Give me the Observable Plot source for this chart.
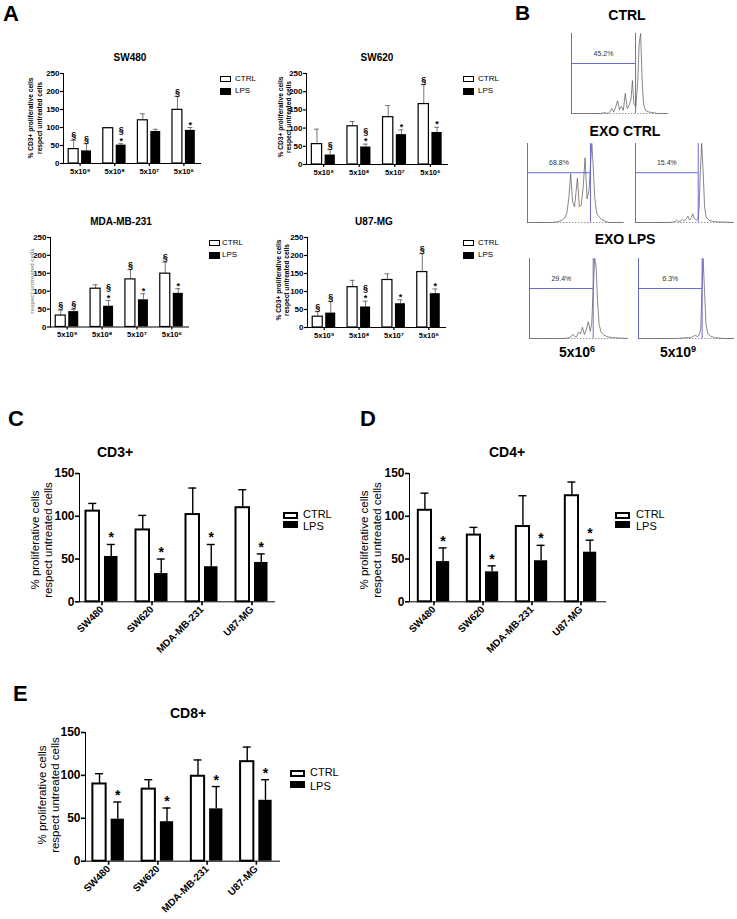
<!DOCTYPE html>
<html><head><meta charset="utf-8">
<script src="https://cdn.jsdelivr.net/npm/d3@7"></script>
<script src="https://cdn.jsdelivr.net/npm/@observablehq/plot@0.6"></script>
<style>
body{margin:0;background:#fff;}
#fig{position:relative;width:737px;height:919px;overflow:hidden;background:#fff;font-family:"Liberation Sans",Arial,sans-serif;color:#000;}
.abs{position:absolute;white-space:nowrap;}
.lbl{position:absolute;white-space:nowrap;transform:translate(-50%,-50%) rotate(-90deg);line-height:1;}
sup{font-size:0.65em;vertical-align:0.55em;line-height:0;}
</style></head><body><div id="fig"></div>
<script>
// ---------- DATA ----------
const doses = ["5x10⁹","5x10⁸","5x10⁷","5x10⁶"];
const cells = ["SW480","SW620","MDA-MB-231","U87-MG"];

// Panel A (CD3+ proliferation, % of untreated) – mean and upper error-bar end
const sw480Ctrl = [40, 98, 120, 149], sw480CtrlUp = [64, 100, 138, 186];
const sw480Lps  = [35, 51, 89, 92],   sw480LpsUp  = [55, 55, 95, 100];
const sw480CtrlAnn = ["§","","","§"], sw480LpsAnn = ["§","§*","","*"];

const sw620Ctrl = [56, 105, 130, 166], sw620CtrlUp = [97, 118, 162, 219];
const sw620Lps  = [26, 48, 82, 88],    sw620LpsUp  = [41, 56, 95, 102];
const sw620CtrlAnn = ["","","","§"], sw620LpsAnn = ["§","§*","*","*"];

const mdaCtrl = [32, 107, 133, 149], mdaCtrlUp = [47, 118, 160, 181];
const mdaLps  = [43, 58, 76, 94],    mdaLpsUp  = [49, 74, 93, 107];
const mdaCtrlAnn = ["§","","§","§"], mdaLpsAnn = ["§","§*","*","*"];

const u87Ctrl = [30, 112, 132, 154], u87CtrlUp = [44, 131, 149, 205];
const u87Lps  = [40, 57, 66, 94],    u87LpsUp  = [72, 73, 77, 107];
const u87CtrlAnn = ["§","","","§"], u87LpsAnn = ["§","§*","*","*"];

// Panels C, D, E
const cd3Ctrl = [106, 84, 102, 110], cd3CtrlUp = [115, 101, 133, 131];
const cd3Lps  = [53, 33, 41, 46],    cd3LpsUp  = [67, 50, 67, 56];
const cd4Ctrl = [107, 78, 88, 124],  cd4CtrlUp = [127, 87, 124, 140];
const cd4Lps  = [47, 35, 48, 58],    cd4LpsUp  = [63, 42, 66, 72];
const cd8Ctrl = [90, 84, 99, 116],   cd8CtrlUp = [102, 95, 118, 133];
const cd8Lps  = [49, 46, 61, 71],    cd8LpsUp  = [69, 62, 87, 95];
const noAnn = ["","","",""], starAnn = ["*","*","*","*"];

// Panel B – CFSE histograms (channel 0-100, relative count 0-100)
const ctrlHistX = [0,30,35,38,40,42,44,46,48,50,52,54,56,58,60,62,63.5,65,67,69,70.5,72,73.5,75,77,80,85,90,100];
const ctrlHistY = [0,0,1,0,2,6,2,8,16,5,9,4,25,6,10,18,41,12,8,40,88,100,45,12,4,2,1,0,0];
const exoCtrlLX = [0,25,32,36,39,41,43,45,47,49,50.5,52,54,56,58,60,62,64,66,67,68.5,70,72,74,77,80,85,100];
const exoCtrlLY = [0,0,1,3,6,12,30,62,26,20,38,56,20,22,45,82,30,40,80,100,70,32,12,8,4,2,0,0];
const exoCtrlRX = [0,35,40,42,44,46,48,50,52,53.5,55,57,58.5,60,62,64,65,66,67.5,69,70.5,72,75,80,100];
const exoCtrlRY = [0,0,1,3,1,2,4,2,5,8,3,6,11,5,3,5,20,60,100,65,20,7,3,1,0];
const exoLpsLX = [0,35,40,42,44,46,48,50,52,54,56,58,60,62,63.5,65,66.5,68,69.5,71,73,76,80,85,100];
const exoLpsLY = [0,0,1,2,5,3,2,8,6,14,5,11,21,9,20,60,100,90,45,18,8,4,2,1,0];
const exoLpsRX = [0,40,50,55,58,60,62,64,65.5,67,68,69.5,71,73,76,80,90,100];
const exoLpsRY = [0,0,1,1,3,4,2,5,12,70,100,60,18,6,3,1,0,0];
const gateEnds = [66.7, 65.6, 64, 65, 67];
const gateLevels = [62.5, 63, 63, 62.5, 62.5];
const gateLabels = ["45.2%","68.8%","15.4%","29.4%","6.3%"];

// ---------- HELPERS ----------
const FONT = '"Liberation Sans", Arial, sans-serif';
const fig = document.getElementById("fig");

function txt(html, x, baseline, size, opts = {}) {
  const d = document.createElement("div");
  d.className = "abs";
  d.innerHTML = html;
  d.style.fontSize = size + "px";
  d.style.lineHeight = "1";
  d.style.fontWeight = opts.weight || "normal";
  if (opts.color) d.style.color = opts.color;
  d.style.left = x + "px";
  d.style.top = (baseline - 0.8465 * size) + "px";
  if (opts.anchor === "middle") d.style.transform = "translateX(-50%)";
  fig.appendChild(d);
}
function vlabel(text, cx, cy, size, weight, color) {
  const d = document.createElement("div");
  d.className = "lbl";
  d.textContent = text;
  d.style.fontSize = size + "px";
  d.style.fontWeight = weight;
  d.style.left = cx + "px";
  d.style.top = cy + "px";
  if (color) d.style.color = color;
  fig.appendChild(d);
}
function box(x, y, w, h, fill, border) {
  const d = document.createElement("div");
  d.className = "abs";
  d.style.left = x + "px"; d.style.top = y + "px";
  d.style.width = w + "px"; d.style.height = h + "px";
  d.style.background = fill;
  d.style.boxSizing = "border-box";
  d.style.border = border + "px solid #000";
  fig.appendChild(d);
}
function legend(x, yCtrl, yLps, w, h, border, textX, fs) {
  box(x, yCtrl, w, h, "#fff", border);
  box(x, yLps, w, h + 1, "#000", 0);
  txt("CTRL", textX, yCtrl + h / 2 + 0.36 * fs, fs);
  txt("LPS", textX, yLps + h / 2 + 0.36 * fs, fs);
}
function place(svg, rect, m) {
  svg.style.position = "absolute";
  svg.style.left = (rect.x0 - m.l) + "px";
  svg.style.top = (rect.y0 - m.t) + "px";
  fig.appendChild(svg);
}

function barPanel(c) {
  const W = c.rect.x1 - c.rect.x0, H = c.rect.y1 - c.rect.y0;
  const step = W / (c.groups.length - c.pi + 2 * c.po);
  const half = step * (1 - c.pi) / 2;
  const off = (half + c.gap / 2) / 2;
  const rows = c.groups.map((g, i) => ({g, c: c.ctrl[i], cu: c.ctrlUp[i], l: c.lps[i], lu: c.lpsUp[i], ca: c.ctrlAnn[i], la: c.lpsAnn[i]}));
  const errMarks = (v, up, dx) => [
    Plot.ruleX(rows, {x: "g", y1: v, y2: up, dx, stroke: c.errColor, strokeWidth: c.errW}),
    Plot.tickY(rows, {x: "g", y: up, insetLeft: half + dx - c.cap / 2, insetRight: half - dx - c.cap / 2, stroke: c.errColor, strokeWidth: c.errW})
  ];
  const annMarks = (up, key, dx) => [
    Plot.text(rows, {filter: d => d[key].includes("*"), x: "g", y: up, text: d => "*", dx, dy: c.starDy, fontSize: c.starFs, lineAnchor: "bottom"}),
    Plot.text(rows, {filter: d => d[key] === "§", x: "g", y: up, text: d => "§", dx, dy: c.secDy, fontSize: c.annFs, lineAnchor: "bottom"}),
    Plot.text(rows, {filter: d => d[key] === "§*", x: "g", y: up, text: d => "§", dx, dy: c.secStarDy, fontSize: c.annFs, lineAnchor: "bottom"})
  ];
  const svg = Plot.plot({
    width: W + c.m.l + c.m.r, height: H + c.m.t + c.m.b,
    marginLeft: c.m.l, marginRight: c.m.r, marginTop: c.m.t, marginBottom: c.m.b,
    style: {background: "transparent", fontFamily: FONT, fontSize: c.baseFs + "px", fontWeight: "bold", color: "#000", overflow: "visible"},
    x: {type: "band", domain: c.groups, paddingInner: c.pi, paddingOuter: c.po, round: false, label: null,
        tickSize: c.tickSize, tickPadding: c.xPad, tickRotate: c.rotate || 0, line: true, tickFormat: c.xFormat},
    y: {domain: [0, c.yMax], ticks: d3.range(0, c.yMax + 1, c.yStep), tickSize: c.tickSize, tickPadding: 1, label: null, line: true},
    marks: [
      ...errMarks("c", "cu", -off),
      ...errMarks("l", "lu", off),
      Plot.barY(rows, {x: "g", y: "c", insetRight: half + c.gap / 2, fill: "#fff", stroke: "#000", strokeWidth: c.barStroke}),
      Plot.barY(rows, {x: "g", y: "l", insetLeft: half + c.gap / 2, fill: "#000"}),
      ...annMarks("cu", "ca", -off),
      ...annMarks("lu", "la", off)
    ]
  });
  const gx = svg.querySelector('g[aria-label="x-axis tick label"]');
  if (gx) gx.style.fontSize = c.xfs + "px";
  const gy = svg.querySelector('g[aria-label="y-axis tick label"]');
  if (gy) gy.style.fontSize = c.yfs + "px";
  svg.querySelectorAll('g[aria-label="x-axis tick"], g[aria-label="y-axis tick"], g[aria-label="frame"]').forEach(g => g.setAttribute("stroke-width", c.axisW));
  place(svg, c.rect, c.m);
}

const aStyle = {m: {l: 35, r: 8, t: 16, b: 22}, pi: 0.34, po: 0.15, gap: 3, cap: 5, xfs: 7.5, yfs: 8, baseFs: 8,
  annFs: 9, starFs: 9, errColor: "#777", errW: 1, barStroke: 1.2, tickSize: 3, xPad: 2, axisW: 1.2,
  starDy: 0, secDy: -2, secStarDy: -10.5, yMax: 250, yStep: 50, groups: doses};
const cStyle = {m: {l: 40, r: 10, t: 16, b: 62}, pi: 0.36, gap: 5, cap: 8, xfs: 10, yfs: 12, baseFs: 12,
  annFs: 13, starFs: 14, errColor: "#000", errW: 1.4, barStroke: 2, tickSize: 4, xPad: 2, axisW: 1.6, rotate: -45,
  starDy: -2, secDy: 0, secStarDy: 0, yMax: 150, yStep: 50, groups: cells};

// ---------- PANEL A ----------
txt("A", 3, 22, 22, {weight: "bold"});
const aPanels = [
  {rect: {x0: 63, x1: 200, y0: 73, y1: 163}, ctrl: sw480Ctrl, ctrlUp: sw480CtrlUp, lps: sw480Lps, lpsUp: sw480LpsUp, ctrlAnn: sw480CtrlAnn, lpsAnn: sw480LpsAnn,
   title: "SW480", tx: 130, ty: 61, lx: [31, 40], ly: 118, leg: [220, 235]},
  {rect: {x0: 306, x1: 447, y0: 73, y1: 164}, ctrl: sw620Ctrl, ctrlUp: sw620CtrlUp, lps: sw620Lps, lpsUp: sw620LpsUp, ctrlAnn: sw620CtrlAnn, lpsAnn: sw620LpsAnn,
   title: "SW620", tx: 377, ty: 61, lx: [281, 289], ly: 117, leg: [463, 478]},
  {rect: {x0: 50, x1: 188, y0: 236.5, y1: 326}, ctrl: mdaCtrl, ctrlUp: mdaCtrlUp, lps: mdaLps, lpsUp: mdaLpsUp, ctrlAnn: mdaCtrlAnn, lpsAnn: mdaLpsAnn,
   title: "MDA-MB-231", tx: 121, ty: 225, lx: null, ly: 281, leg: [209, 222]},
  {rect: {x0: 307, x1: 445, y0: 236.5, y1: 326.5}, ctrl: u87Ctrl, ctrlUp: u87CtrlUp, lps: u87Lps, lpsUp: u87LpsUp, ctrlAnn: u87CtrlAnn, lpsAnn: u87LpsAnn,
   title: "U87-MG", tx: 374, ty: 225, lx: [279, 287], ly: 280, leg: [463, 478]}
];
aPanels.forEach(p => {
  barPanel({...aStyle, ...p});
  txt(p.title, p.tx, p.ty, 10, {weight: "bold", anchor: "middle"});
  if (p.lx) {
    vlabel("% CD3+ proliferative cells", p.lx[0], p.ly, 6.6, "bold");
    vlabel("respect untreated cells", p.lx[1], p.ly, 6.6, "bold");
  } else {
    vlabel("respect untreated cells", 32, p.ly, 6, "bold", "#999");
  }
  legend(p.leg[0], p.rect.y0 + 3, p.rect.y0 + 15, 11, 6, 1.2, p.leg[1], 8);
});

// ---------- PANEL B ----------
txt("B", 515, 20, 21, {weight: "bold"});
const BLUE = "#5a5ad0";
function histo(rect, xs, ys, gx, gy, label) {
  const m = {l: 2, r: 2, t: 2, b: 2};
  const rows = xs.map((x, i) => ({x, y: ys[i]}));
  const svg = Plot.plot({
    width: rect.x1 - rect.x0 + m.l + m.r, height: rect.y1 - rect.y0 + m.t + m.b,
    marginLeft: m.l, marginRight: m.r, marginTop: m.t, marginBottom: m.b,
    style: {background: "transparent", fontFamily: FONT, overflow: "visible"},
    x: {domain: [0, 100], axis: null}, y: {domain: [0, 100], axis: null},
    marks: [
      Plot.ruleY([0], {stroke: "#999", strokeDasharray: "1.5,1.5"}),
      Plot.ruleX([0], {stroke: BLUE, strokeWidth: 0.9}),
      Plot.line(rows, {x: "x", y: "y", stroke: "#555", strokeWidth: 0.7}),
      Plot.ruleY([gy], {x1: 0, x2: gx, stroke: BLUE, strokeWidth: 0.9}),
      Plot.ruleX([gx], {stroke: BLUE, strokeWidth: 0.9}),
      Plot.text([label], {x: gx / 2, y: gy, text: d => d, dy: -10, fontSize: 7, fill: "#333"})
    ]
  });
  place(svg, rect, m);
}
histo({x0: 571, x1: 667, y0: 33, y1: 113}, ctrlHistX, ctrlHistY, gateEnds[0], gateLevels[0], gateLabels[0]);
histo({x0: 527, x1: 623, y0: 143, y1: 222}, exoCtrlLX, exoCtrlLY, gateEnds[1], gateLevels[1], gateLabels[1]);
histo({x0: 635, x1: 733, y0: 143, y1: 222}, exoCtrlRX, exoCtrlRY, gateEnds[2], gateLevels[2], gateLabels[2]);
histo({x0: 529, x1: 627, y0: 258, y1: 338}, exoLpsLX, exoLpsLY, gateEnds[3], gateLevels[3], gateLabels[3]);
histo({x0: 638, x1: 733, y0: 258, y1: 338}, exoLpsRX, exoLpsRY, gateEnds[4], gateLevels[4], gateLabels[4]);
txt("CTRL", 627, 20, 14, {weight: "bold", anchor: "middle"});
txt("EXO CTRL", 625, 136, 14, {weight: "bold", anchor: "middle"});
txt("EXO LPS", 625, 244, 14, {weight: "bold", anchor: "middle"});
txt("5x10<sup>6</sup>", 577, 357, 14, {weight: "bold", anchor: "middle"});
txt("5x10<sup>9</sup>", 678, 357, 14, {weight: "bold", anchor: "middle"});

// ---------- PANELS C, D, E ----------
const cdePanels = [
  {letter: "C", lxy: [8, 427], rect: {x0: 79, x1: 274, y0: 472.7, y1: 601}, po: 0.13, ctrl: cd3Ctrl, ctrlUp: cd3CtrlUp, lps: cd3Lps, lpsUp: cd3LpsUp,
   title: "CD3+", tx: 115, ty: 457, lx: [36, 49], ly: 540, leg: [283, 512, 521, 303]},
  {letter: "D", lxy: [360, 427], rect: {x0: 409, x1: 605, y0: 472.7, y1: 601}, po: 0.18, ctrl: cd4Ctrl, ctrlUp: cd4CtrlUp, lps: cd4Lps, lpsUp: cd4LpsUp,
   title: "CD4+", tx: 507, ty: 457, lx: [365, 378], ly: 540, leg: [615, 512, 521, 636]},
  {letter: "E", lxy: [13, 702], rect: {x0: 85, x1: 279, y0: 732.3, y1: 861}, po: 0.15, ctrl: cd8Ctrl, ctrlUp: cd8CtrlUp, lps: cd8Lps, lpsUp: cd8LpsUp,
   title: "CD8+", tx: 188, ty: 718, lx: [43, 56], ly: 795, leg: [290, 770, 781, 310]}
];
cdePanels.forEach(p => {
  barPanel({...cStyle, ...p, ctrlAnn: noAnn, lpsAnn: starAnn});
  txt(p.letter, p.lxy[0], p.lxy[1], 22, {weight: "bold"});
  txt(p.title, p.tx, p.ty, 14, {weight: "bold", anchor: "middle"});
  vlabel("% proliferative cells", p.lx[0], p.ly, 11.5, "normal");
  vlabel("respect untreated cells", p.lx[1], p.ly, 11.5, "normal");
  box(p.leg[0], p.leg[1], 15, 7, "#fff", 2);
  box(p.leg[0], p.leg[2], 15, 7, "#000", 0);
  txt("CTRL", p.leg[3], p.leg[1] + 6, 11);
  txt("LPS", p.leg[3], p.leg[2] + 9, 11);
});
</script>
</body></html>
